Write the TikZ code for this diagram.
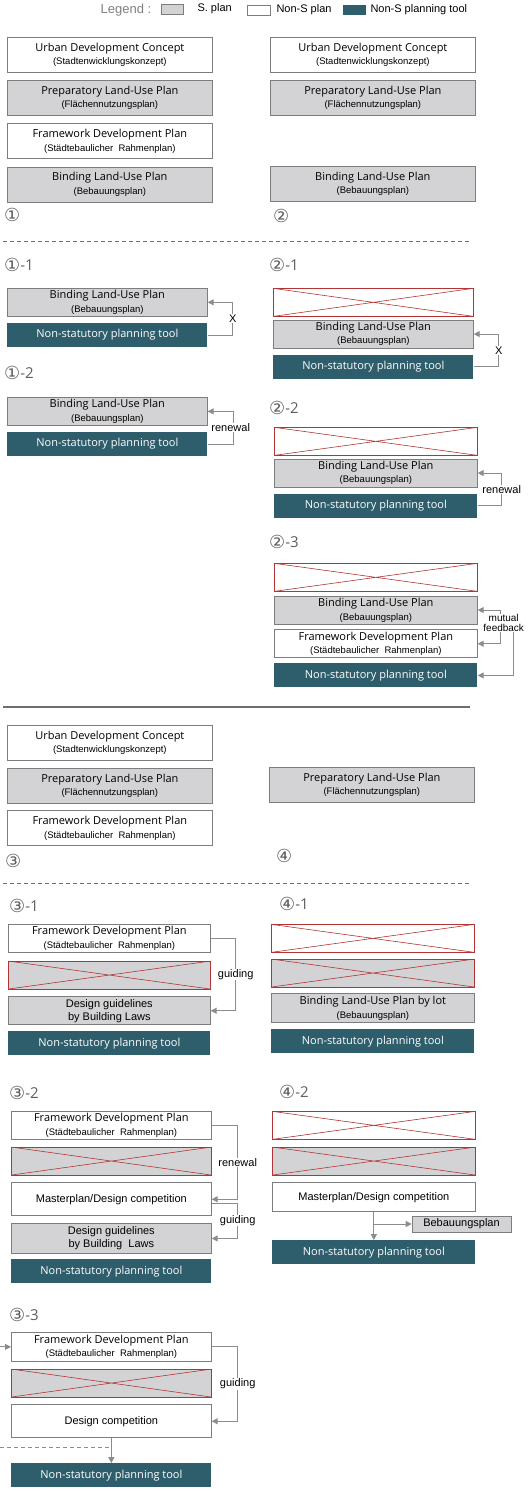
\documentclass[tikz,border=0pt]{standalone}
\usepackage{fontspec}
\setmainfont{Open Sans}
\newfontfamily\arialfont{Liberation Sans}
\newfontfamily\circfont{DejaVu Sans}
\usepackage{tikz}
\usetikzlibrary{positioning,arrows.meta,calc}

\definecolor{sgray}{RGB}{211,211,213}
\definecolor{edgegray}{RGB}{125,125,125}
\definecolor{tealtool}{RGB}{46,93,107}
\definecolor{crossred}{RGB}{178,52,52}
\definecolor{arrgray}{RGB}{140,140,140}
\definecolor{sepgray}{RGB}{110,110,110}
\definecolor{tagtext}{RGB}{95,95,95}

\newcommand{\twoline}[2]{#1\\{\arialfont\fontsize{9.5}{10}\selectfont #2}}
\newcommand{\circnum}[1]{{\circfont\fontsize{18}{18}\selectfont\raisebox{-1pt}{#1}}}

\begin{document}
\begin{tikzpicture}[
  x=1pt, y=-1pt,
  node distance=7pt,
  plan/.style={
    rectangle, draw=edgegray, line width=0.7pt,
    minimum width=203pt, minimum height=28pt, inner sep=0pt,
    align=center, font=\fontsize{11}{13.5}\selectfont
  },
  spl/.style={plan, fill=sgray},
  nspl/.style={plan, fill=white},
  tool/.style={plan, draw=none, fill=tealtool, text=white, minimum height=24pt},
  crossed/.style={plan, draw=crossred, path picture={
    \draw[crossred, line width=0.6pt]
      (path picture bounding box.north west) -- (path picture bounding box.south east)
      (path picture bounding box.south west) -- (path picture bounding box.north east);}
  },
  xnspl/.style={crossed, fill=white},
  xspl/.style={crossed, fill=sgray},
  tall/.style={minimum height=35pt, minimum width=205pt},
  arialbox/.style={font=\arialfont\fontsize{11}{13}\selectfont},
  swatch/.style={draw=edgegray, line width=0.6pt, minimum width=22pt, minimum height=10pt, inner sep=0pt},
  legtxt/.style={inner sep=0pt, font=\arialfont\fontsize{11}{11}\selectfont},
  tag/.style={anchor=west, inner sep=0pt, text=tagtext, font=\fontsize{15}{15}\selectfont},
  note/.style={font=\arialfont\fontsize{11}{11}\selectfont, fill=white, inner sep=0.5pt},
  arr/.style={-{Triangle[length=6pt,width=6pt]}, draw=arrgray, line width=1pt},
  sep/.style={draw=sepgray, dash pattern=on 4pt off 3pt, line width=0.6pt}
]
\fill[white] (0,0) rectangle (528,1491);
\useasboundingbox (0,0) rectangle (528,1491);

% Legend
\node[legtxt, text=gray, font=\arialfont\fontsize{13}{13}\selectfont] (leg) at (126,10) {Legend :};
\node[swatch, fill=sgray] (swa) at (172,9) {};
\node[legtxt, right=14pt of swa] (lga) {S. plan};
\node[swatch, fill=white, minimum width=23pt] (swb) at (258.5,10) {};
\node[legtxt, right=6pt of swb] (lgb) {Non-S plan};
\node[swatch, fill=tealtool, draw=none, minimum width=23pt] (swc) at (354.5,10) {};
\node[legtxt, right=4pt of swc] (lgc) {Non-S planning tool};

% Case 1
\node[nspl, tall, anchor=north west] (udc1) at (7,37) {\twoline{Urban Development Concept}{(Stadtenwicklungskonzept)}};
\node[spl, tall, below=7.5pt of udc1] (plup1) {\twoline{Preparatory Land-Use Plan}{(Flächennutzungsplan)}};
\node[nspl, tall, below=7.5pt of plup1] (fdp1) {\twoline{Framework Development Plan}{(Städtebaulicher\ \ Rahmenplan)}};
\node[spl, tall, below=7.5pt of fdp1] (blup1) {\twoline{Binding Land-Use Plan}{(Bebauungsplan)}};
\node[tag] (c1) at (4,215) {\circnum{①}};

% Case 2
\node[nspl, tall, anchor=north west] (udc2) at (270,37) {\twoline{Urban Development Concept}{(Stadtenwicklungskonzept)}};
\node[spl, tall, below=7.5pt of udc2] (plup2) {\twoline{Preparatory Land-Use Plan}{(Flächennutzungsplan)}};
\node[spl, tall, below=50pt of plup2] (blup2) {\twoline{Binding Land-Use Plan}{(Bebauungsplan)}};
\node[tag] (c2) at (273,216) {\circnum{②}};

\draw[sep] (3,241) -- (470,241);

% Case 1-1
\node[tag] (c11) at (4,265) {\circnum{①}-1};
\node[spl, anchor=north west, minimum width=200pt] (blup11) at (7,288) {\twoline{Binding Land-Use Plan}{(Bebauungsplan)}};
\node[tool, below=6pt of blup11, minimum width=200pt] (tool11) {Non-statutory planning tool};
\draw[arr] (tool11.east) -- ++(25,0) |- node[note, pos=.25] {X} (blup11.east);

% Case 1-2
\node[tag] (c12) at (4,373) {\circnum{①}-2};
\node[spl, anchor=north west, minimum width=200pt] (blup12) at (7,397) {\twoline{Binding Land-Use Plan}{(Bebauungsplan)}};
\node[tool, below=6pt of blup12, minimum width=200pt] (tool12) {Non-statutory planning tool};
\draw[arr] (tool12.east) -- ++(26,0) |- node[note, pos=.25, xshift=-3pt] {renewal} (blup12.east);

% Case 2-1
\node[tag] (c21) at (269,265) {\circnum{②}-1};
\node[xnspl, anchor=north west, minimum width=200pt] (x21) at (273,288) {};
\node[spl, below=3pt of x21, minimum width=200pt] (blup21) {\twoline{Binding Land-Use Plan}{(Bebauungsplan)}};
\node[tool, below=6pt of blup21, minimum width=200pt] (tool21) {Non-statutory planning tool};
\draw[arr] (tool21.east) -- ++(25,0) |- node[note, pos=.25] {X} (blup21.east);

% Case 2-2
\node[tag] (c22) at (269,408) {\circnum{②}-2};
\node[xnspl, anchor=north west] (x22) at (274,427) {};
\node[spl, below=3pt of x22] (blup22) {\twoline{Binding Land-Use Plan}{(Bebauungsplan)}};
\node[tool, below=6pt of blup22] (tool22) {Non-statutory planning tool};
\draw[arr] (tool22.east) -- ++(24,0) |- node[note, pos=.25] {renewal} (blup22.east);

% Case 2-3
\node[tag] (c23) at (269,542) {\circnum{②}-3};
\node[xnspl, anchor=north west] (x23) at (274,563) {};
\node[spl, below=4pt of x23] (blup23) {\twoline{Binding Land-Use Plan}{(Bebauungsplan)}};
\node[nspl, below=5pt of blup23] (fdp23) {\twoline{Framework Development Plan}{(Städtebaulicher\ \ Rahmenplan)}};
\node[tool, below=5pt of fdp23] (tool23) {Non-statutory planning tool};
\coordinate (mf1) at ($(blup23.east)!.5!(fdp23.east)+(23,0)$);
\coordinate (mf2) at ($(mf1)+(13,-8)$);
\draw[arr] (mf1) |- (blup23.east);
\draw[arr] (mf1) |- (fdp23.east);
\draw[arr] (mf2) |- (tool23.east);
\node[note, align=center, font=\arialfont\fontsize{10}{10}\selectfont] (mfl) at ($(mf1)+(3,-4)$) {mutual\\feedback};

\draw[draw=sepgray, line width=1.3pt] (3,707) -- (470,707);

% Case 3
\node[nspl, tall, anchor=north west] (udc3) at (7,725) {\twoline{Urban Development Concept}{(Stadtenwicklungskonzept)}};
\node[spl, tall, below=7pt of udc3] (plup3) {\twoline{Preparatory Land-Use Plan}{(Flächennutzungsplan)}};
\node[nspl, tall, below=7pt of plup3] (fdp3) {\twoline{Framework Development Plan}{(Städtebaulicher\ \ Rahmenplan)}};
\node[tag] (c3) at (5,861) {\circnum{③}};

% Case 4
\node[spl, tall, anchor=north west] (plup4) at (269,767) {\twoline{Preparatory Land-Use Plan}{(Flächennutzungsplan)}};
\node[tag] (c4) at (276,856) {\circnum{④}};

\draw[sep] (3,883) -- (470,883);

% Case 3-1
\node[tag] (c31) at (9,906) {\circnum{③}-1};
\node[nspl, anchor=north west, minimum width=202pt] (fdp31) at (8,924) {\twoline{Framework Development Plan}{(Städtebaulicher\ \ Rahmenplan)}};
\node[xspl, below=8pt of fdp31, minimum width=202pt] (x31) {};
\node[spl, arialbox, below=7pt of x31, minimum width=202pt] (dg31) {Design guidelines\\by Building Laws};
\node[tool, below=6pt of dg31, minimum width=202pt] (tool31) {Non-statutory planning tool};
\draw[arr] (fdp31.east) -- ++(25,0) |- node[note, pos=.25] {guiding} (dg31.east);

% Case 4-1
\node[tag] (c41) at (279,904) {\circnum{④}-1};
\node[xnspl, anchor=north west] (x41a) at (271,924) {};
\node[xspl, below=6pt of x41a] (x41b) {};
\node[spl, below=6pt of x41b, minimum height=29pt] (blot41) {\twoline{Binding Land-Use Plan by lot}{(Bebauungsplan)}};
\node[tool, below=6pt of blot41] (tool41) {Non-statutory planning tool};

% Case 3-2
\node[tag] (c32) at (9,1093) {\circnum{③}-2};
\node[nspl, anchor=north west, minimum width=200pt] (fdp32) at (11,1111) {\twoline{Framework Development Plan}{(Städtebaulicher\ \ Rahmenplan)}};
\node[xspl, below=7pt of fdp32, minimum width=200pt] (x32) {};
\node[nspl, arialbox, below=7pt of x32, minimum width=200pt, minimum height=33pt] (mdc32) {Masterplan/Design competition};
\node[spl, arialbox, below=7pt of mdc32, minimum width=200pt, minimum height=30pt] (dg32) {Design guidelines\\by Building\ \ Laws};
\node[tool, below=5pt of dg32, minimum width=200pt] (tool32) {Non-statutory planning tool};
\draw[arr] (fdp32.east) -- ++(26,0) |- node[note, pos=.25] {renewal} (mdc32.east);
\draw[arr] ($(mdc32.east)+(0,4)$) -- ++(26,0) |- node[note, pos=.25] {guiding} (dg32.east);

% Case 4-2
\node[tag] (c42) at (279,1092) {\circnum{④}-2};
\node[xnspl, anchor=north west] (x42a) at (272,1111) {};
\node[xspl, below=7pt of x42a] (x42b) {};
\node[nspl, arialbox, below=7pt of x42b, minimum height=29pt] (mdc42) {Masterplan/Design competition};
\node[tool, below=28pt of mdc42] (tool42) {Non-statutory planning tool};
\node[spl, arialbox, minimum width=99pt, minimum height=16pt] (bp42) at (461.5,1224) {Bebauungsplan};
\coordinate (br42) at (mdc42.south |- bp42.west);
\draw[arr] (mdc42.south) -- (tool42.north);
\draw[arr] (br42) -- (bp42.west);

% Case 3-3
\node[tag] (c33) at (9,1315) {\circnum{③}-3};
\node[nspl, anchor=north west, minimum width=200pt, minimum height=29pt] (fdp33) at (11,1332) {\twoline{Framework Development Plan}{(Städtebaulicher\ \ Rahmenplan)}};
\node[xspl, below=7pt of fdp33, minimum width=200pt] (x33) {};
\node[nspl, arialbox, below=7pt of x33, minimum width=200pt, minimum height=33pt] (dc33) {Design competition};
\node[tool, below=25pt of dc33, minimum width=200pt] (tool33) {Non-statutory planning tool};
\draw[arr] (fdp33.east) -- ++(26,0) |- node[note, pos=.25] {guiding} (dc33.east);
\coordinate (in33) at ($(fdp33.west)+(-11,0)$);
\draw[arr] (in33) -- (fdp33.west);
\coordinate (ds33) at ($(dc33.south)+(0,9)$);
\coordinate (dw33) at (ds33 -| in33);
\draw[arr] (dc33.south) -- (tool33.north);
\draw[sep, draw=arrgray] (dw33) -- (ds33);
\end{tikzpicture}
\end{document}
